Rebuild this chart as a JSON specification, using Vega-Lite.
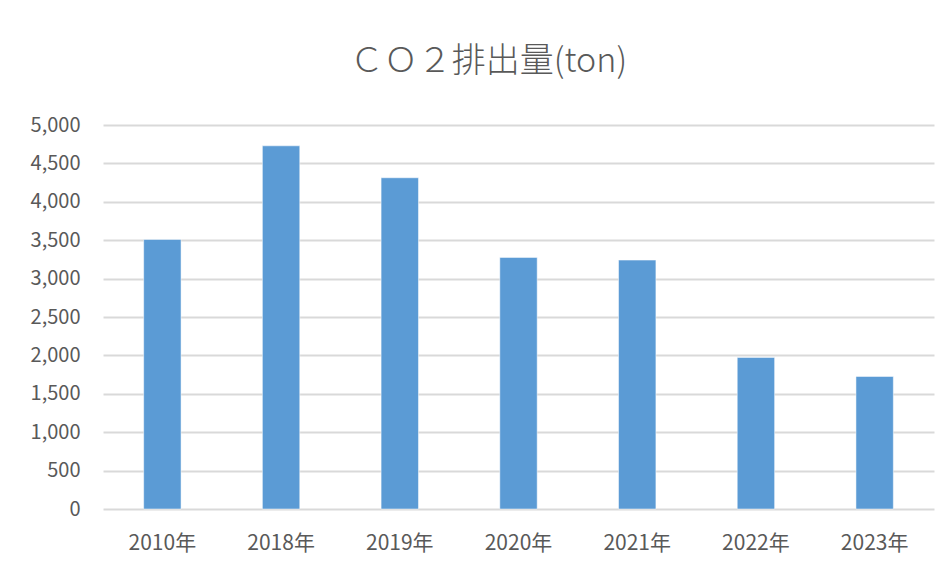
{
  "$schema": "https://vega.github.io/schema/vega-lite/v6.json",
  "width": 831,
  "height": 384,
  "autosize": "none",
  "padding": {"left": 103, "top": 125, "right": 15, "bottom": 67},
  "background": "#ffffff",
  "title": {
    "text": "ＣＯ２排出量(ton)",
    "font": "Noto Sans CJK JP",
    "fontSize": 34,
    "fontWeight": 300,
    "color": "#595959",
    "anchor": "middle",
    "dx": -30,
    "offset": 36
  },
  "data": {
    "values": [
      {"year": "2010年", "co2": 3510},
      {"year": "2018年", "co2": 4729},
      {"year": "2019年", "co2": 4313},
      {"year": "2020年", "co2": 3276},
      {"year": "2021年", "co2": 3241},
      {"year": "2022年", "co2": 1974},
      {"year": "2023年", "co2": 1726}
    ]
  },
  "mark": {"type": "bar", "color": "#5B9BD5", "stroke": "#ffffff", "strokeWidth": 0.5},
  "encoding": {
    "x": {
      "field": "year",
      "type": "nominal",
      "sort": null,
      "scale": {"paddingInner": 0.685, "paddingOuter": 0.3425},
      "axis": {
        "title": null,
        "labelAngle": 0,
        "ticks": false,
        "domain": false,
        "labelPadding": 23,
        "labelFont": "Noto Sans CJK JP",
        "labelFontSize": 21,
        "labelColor": "#595959"
      }
    },
    "y": {
      "field": "co2",
      "type": "quantitative",
      "scale": {"domain": [0, 5000], "nice": false},
      "axis": {
        "title": null,
        "values": [0, 500, 1000, 1500, 2000, 2500, 3000, 3500, 4000, 4500, 5000],
        "format": ",d",
        "ticks": false,
        "domain": false,
        "labelPadding": 23,
        "labelFont": "Noto Sans CJK JP",
        "labelFontSize": 20,
        "labelColor": "#595959",
        "gridColor": "#d9d9d9",
        "gridWidth": 2
      }
    }
  },
  "config": {
    "view": {"stroke": null}
  }
}
